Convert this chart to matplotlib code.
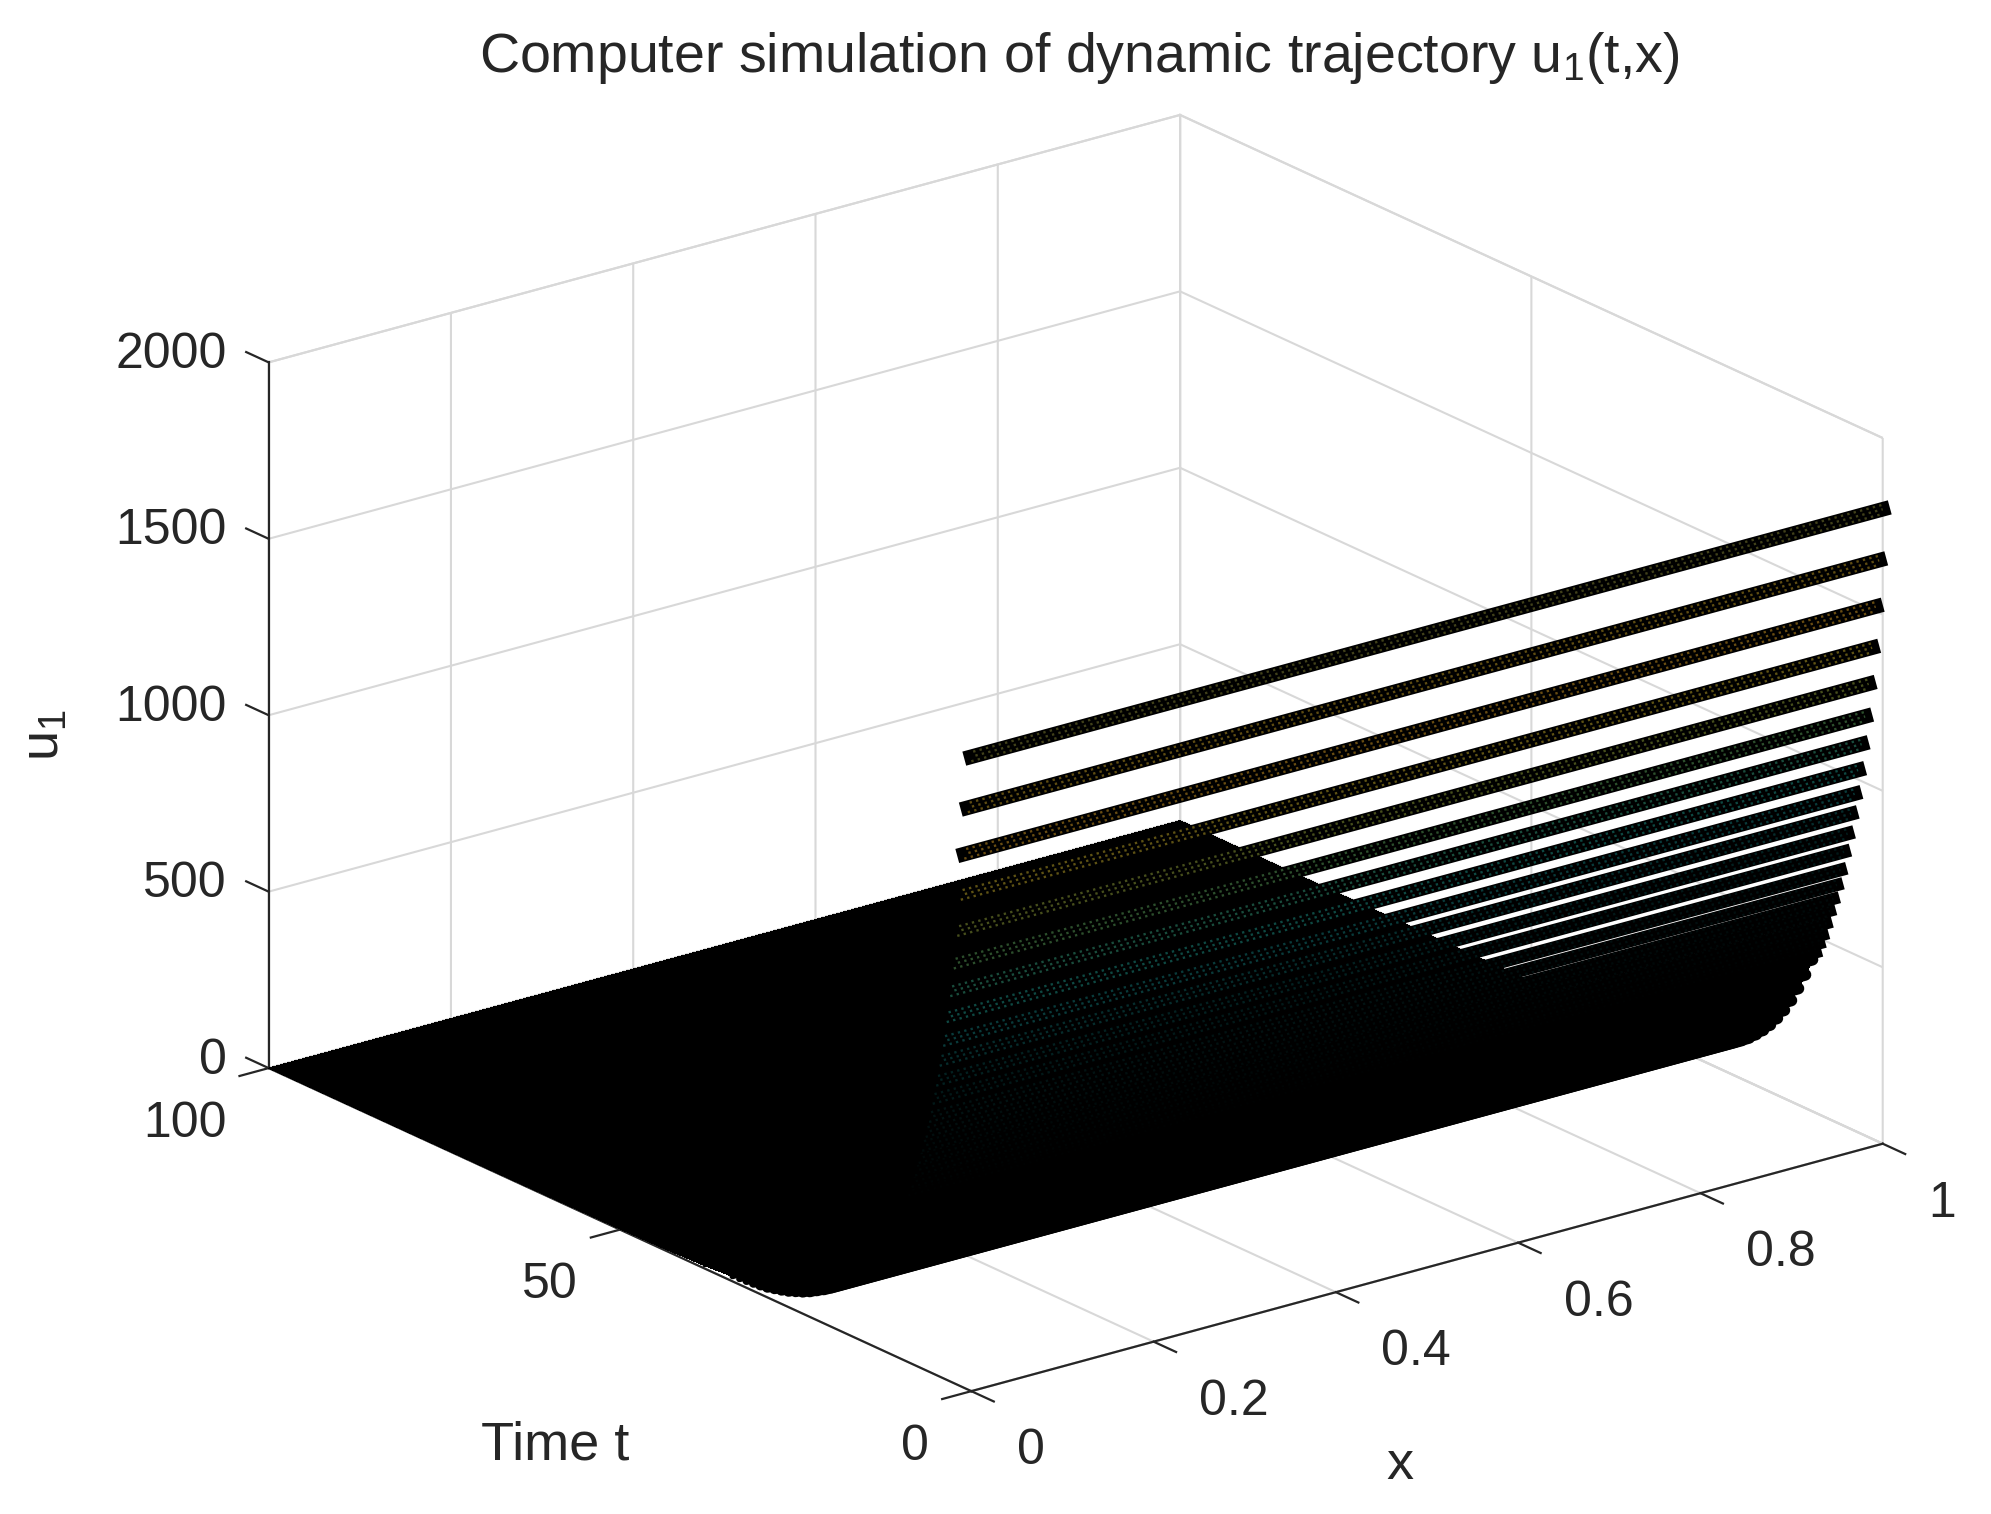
import numpy as np
import matplotlib
matplotlib.use("Agg")
import matplotlib.pyplot as plt

plt.rcParams['font.family'] = ['Liberation Sans', 'DejaVu Sans']
plt.rcParams['mathtext.fontset'] = 'custom'
plt.rcParams['mathtext.rm'] = 'Liberation Sans'
plt.rcParams['mathtext.default'] = 'regular'
plt.rcParams['text.color'] = '#262626'

x_ends = [0, 1]

# time steps that show up as separate strips
t_bands = [0, 0.5, 1, 1.5, 2, 2.5, 3, 3.5, 4, 4.5, 5, 5.5, 6, 6.5, 7, 7.5, 8, 8.5, 9, 9.5]
u_bands = [1798, 1649, 1513, 1392, 1285, 1188, 1105, 1027, 955, 894, 833, 777, 721, 674,
           630, 591, 551, 514, 485, 455]
band_colors = ['#40401a', '#5e4c12', '#684c12', '#5e5214', '#464e1c', '#2c4e2c',
               '#194c3c', '#0e4842', '#093a3a', '#062c2c', '#032020', '#021818',
               '#021212', '#020e0e', '#010a0a', '#010808', '#000606', '#000404', '#000202', '#000000']

# later times merge into a solid sheet
t_sheet = [10, 11, 12, 13, 14, 15, 16, 17, 18, 19, 20, 21, 22, 23, 24, 25, 26, 27, 28, 29, 30, 31, 32, 33, 34,
           38, 44, 50, 60, 70, 80, 100]
u_sheet = [430, 378, 330, 287, 250, 218, 190, 166, 145, 126, 110, 96, 84, 72, 62, 54, 46, 40, 35, 30, 26, 22,
           19, 16, 14, 8, 4, 2, 1, 0.5, 0, 0]

x_ticks = [0, 0.2, 0.4, 0.6, 0.8, 1]
x_tick_labels = ['0', '0.2', '0.4', '0.6', '0.8', '1']
t_ticks = [0, 50, 100]
z_ticks = [0, 500, 1000, 1500, 2000]

fig = plt.figure(figsize=(19.91, 15.14), dpi=100)
ax = fig.add_subplot(projection='3d', proj_type='ortho', computed_zorder=False)
ax.set_position([0.03, -0.0109, 1.0, 1.0])
ax.view_init(elev=20.69, azim=-127.54)
ax.set_box_aspect((1156.5, 1160.3, 759), zoom=1.1506)

ax.set_xlim(0, 1, view_margin=0)
ax.set_ylim(0, 100, view_margin=0)
ax.set_zlim(0, 2000, view_margin=0)

# solid part
X, T = np.meshgrid(x_ends, t_sheet)
U = np.column_stack([u_sheet, u_sheet])
ax.plot_surface(X, T, U, color='k', shade=False, linewidth=0, antialiased=False, zorder=2, clip_on=False)

# thick edges taper off where the sheet lies flat
for t, u in zip(t_sheet, u_sheet):
    if t <= 50:
        ax.plot(x_ends, [t, t], [u, u], color='k', lw=min(8.5, u * 0.3), solid_capstyle='round', zorder=3, clip_on=False)

# strips, far ones first, with the speckle of the mesh colours on top
for i in range(len(t_bands) - 1, -1, -1):
    t, u = t_bands[i], u_bands[i]
    band_lw = max(8.5, 10.5 - 0.25 * max(i - 7, 0))
    ax.plot(x_ends, [t, t], [u, u], color='k', lw=band_lw, solid_capstyle='projecting', zorder=4 + i * -0.01, clip_on=False)
    for off in [-13, 0, 13]:
        ax.plot(x_ends, [t, t], [u + off, u + off], color=band_colors[i], lw=1.7,
                linestyle=(off / 13 + 1, (1, 1.8)), dash_capstyle='butt', zorder=4 + i * -0.01, clip_on=False)

ax.set_xticks(x_ticks)
ax.set_xticklabels(x_tick_labels)
ax.set_yticks(t_ticks)
ax.set_zticks(z_ticks)
ax.tick_params(labelsize=36, colors='#262626')
ax.tick_params(axis='x', pad=24)
ax.tick_params(axis='y', pad=24)
ax.tick_params(axis='z', pad=11)


def nudge(lab, dx, dy):
    # the 3d axis resets label positions at draw time, so shift them there (pixels)
    set_pos = lab.set_position

    def shifted(xy):
        px = ax.transData.transform(xy) + (dx, dy)
        set_pos(ax.transData.inverted().transform(px))
    lab.set_position = shifted


for lab in ax.get_zticklabels():
    lab.set_ha('right')
    nudge(lab, 12, 28)
for lab in ax.get_yticklabels():
    lab.set_ha('right')
    lab.set_va('baseline')
    nudge(lab, 9, -15)
for lab in ax.get_xticklabels():
    lab.set_ha('left')
    lab.set_va('baseline')
    nudge(lab, 6, -15)

# z ticks point along the time direction in the original
ax.zaxis._get_tickdir = lambda position: 1

for axis in [ax.xaxis, ax.yaxis, ax.zaxis]:
    axis.set_pane_color((1, 1, 1, 1))
    axis.pane.set_edgecolor('#d8d8d8')
    axis.pane.set_linewidth(1.5)
    axis.line.set_color('#262626')
    axis.line.set_linewidth(1.6)
    axis._axinfo['grid']['color'] = '#d8d8d8'
    axis._axinfo['grid']['linewidth'] = 1.5
    axis._axinfo['tick']['color'] = '#262626'
    axis._axinfo['tick']['inward_factor'] = 0.4
    axis._axinfo['tick']['outward_factor'] = 0
    axis._axinfo['tick']['linewidth'] = {True: 1.6, False: 1.6}
ax.zaxis._axinfo['tick']['inward_factor'] = -0.4

fig.text(1079 / 1991, 1 - 58 / 1514, 'Computer simulation of dynamic trajectory u$_1$(t,x)',
         fontsize=40, ha='center', va='center')
fig.text(555 / 1991, 1 - 1445 / 1514, 'Time t', fontsize=39, ha='center', va='center')
fig.text(1400 / 1991, 1 - 1465 / 1514, 'x', fontsize=39, ha='center', va='center')
fig.text(45 / 1991, 1 - 735 / 1514, 'u$_1$', fontsize=39, ha='center', va='center', rotation=90)

fig.savefig('out.png', dpi=100)
